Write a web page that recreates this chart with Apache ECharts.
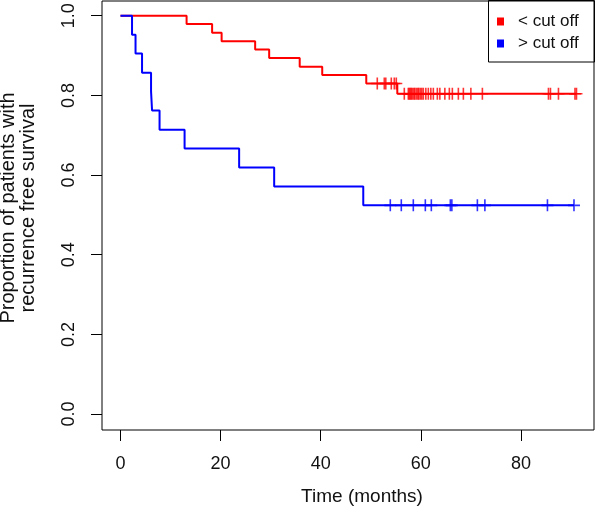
<!DOCTYPE html>
<html>
<head>
<meta charset="utf-8">
<script src="https://cdn.jsdelivr.net/npm/echarts@6/dist/echarts.min.js"></script>
<style>
html,body{margin:0;padding:0;background:#fff;}
#chart{width:596px;height:509px;}
</style>
</head>
<body>
<div id="chart"></div>
<script>
// ---- data ----
const seriesNames = ['< cut off', '> cut off'];
const xTicks = [0, 20, 40, 60, 80];
const yTicks = [0, 0.2, 0.4, 0.6, 0.8, 1.0];

// "< cut off" group (red): step times and survival
const redTimes = [0, 13.2, 18.3, 20.2, 26.9, 29.7, 35.8, 40.3, 49.1, 55.3, 91.1];
const redSurv  = [1.0, 0.979, 0.957, 0.936, 0.915, 0.894, 0.872, 0.851, 0.830, 0.804, 0.804];
// censored times (red) at level 0.830 and at level 0.804
const redCensorA = [51.3, 52.7, 53.0, 54.1, 54.7, 55.1];
const redCensorAL = 0.830;
const redCensorB = [56.7, 57.5, 57.7, 57.9, 58.1, 58.3, 58.6, 58.8, 59.1, 59.4, 59.6, 59.9,
                    60.2, 60.5, 61.0, 61.5, 62.0, 62.5, 63.3, 63.8, 64.8, 65.7, 66.3, 67.5,
                    68.5, 70.0, 72.3, 85.5, 85.9, 87.5, 90.8, 91.1];
const redCensorBL = 0.804;

// "> cut off" group (blue)
const blueTimes = [0, 2.3, 3.0, 4.3, 6.1, 6.3, 7.8, 12.8, 23.7, 30.7, 48.5, 90.6];
const blueSurv  = [1.0, 0.952, 0.905, 0.857, 0.810, 0.762, 0.714, 0.667, 0.619, 0.571, 0.524, 0.524];
const blueCensor = [53.9, 56.1, 58.5, 60.9, 62.1, 65.9, 66.2, 71.3, 72.8, 85.3, 90.6];
const blueCensorL = 0.524;

// ---- build ----
const zip = (xs, ys) => xs.map((x, i) => [x, ys[i]]);
const atLevel = (xs, l) => xs.map(x => [x, l]);
const plus = 'path://M5.2,0H6.8V5.2H12V6.8H6.8V12H5.2V6.8H0V5.2H5.2Z';
const RED = '#ff0000', BLUE = '#0000ff';
const FONT = 'Liberation Sans, Arial, Helvetica, sans-serif';

const chart = echarts.init(document.getElementById('chart'), null, {renderer: 'canvas'});
chart.setOption({
  animation: false,
  backgroundColor: '#fff',
  grid: {left: 102, right: 2, top: 1, bottom: 79, show: true, borderColor: '#000', borderWidth: 1, backgroundColor: 'transparent'},
  xAxis: {
    type: 'value', min: -3.7, max: 94.6, position: 'bottom',
    splitLine: {show: false},
    axisLine: {show: false, onZero: false},
    axisTick: {show: true, length: 11, inside: false, customValues: xTicks, lineStyle: {color: '#000', width: 1}},
    axisLabel: {customValues: xTicks, margin: 25, color: '#111', fontSize: 18, fontFamily: FONT}
  },
  yAxis: {
    type: 'value', min: -0.04, max: 1.037, position: 'left',
    splitLine: {show: false},
    axisLine: {show: false, onZero: false},
    axisTick: {show: true, length: 11, customValues: yTicks, lineStyle: {color: '#000', width: 1}},
    axisLabel: {customValues: yTicks, rotate: 90, margin: 24, color: '#111', fontSize: 18, fontFamily: FONT,
                formatter: v => v.toFixed(1)}
  },
  legend: {
    data: seriesNames,
    orient: 'vertical',
    left: 497, top: 13,
    icon: 'rect', itemWidth: 7, itemHeight: 8, itemGap: 5,
    textStyle: {color: '#111', fontSize: 17, fontFamily: FONT, padding: [0, 0, 0, 9]},
    padding: 0
  },
  graphic: [
    {type: 'rect', shape: {x: 488.5, y: 0.5, width: 106, height: 61.5}, style: {fill: 'none', stroke: '#000', lineWidth: 1}, z: 100},
    {type: 'text', x: 362, y: 497, style: {text: 'Time (months)', fontSize: 19, fontFamily: FONT, fill: '#111', align: 'center', verticalAlign: 'middle'}},
    {type: 'text', x: 18, y: 208, rotation: Math.PI / 2,
     style: {text: 'Proportion of patients with\nrecurrence free survival', fontSize: 20, lineHeight: 20, fontFamily: FONT, fill: '#111', align: 'center', verticalAlign: 'middle'}}
  ],
  series: [
    {name: seriesNames[0], type: 'line', step: 'end', data: zip(redTimes, redSurv), showSymbol: false,
     lineStyle: {color: RED, width: 2}, itemStyle: {color: RED}, z: 2},
    {name: seriesNames[1], type: 'line', step: 'end', data: zip(blueTimes, blueSurv), showSymbol: false,
     lineStyle: {color: BLUE, width: 2}, itemStyle: {color: BLUE}, z: 3},
    {name: 'redCensor', type: 'scatter', data: atLevel(redCensorA, redCensorAL).concat(atLevel(redCensorB, redCensorBL)),
     symbol: plus, symbolSize: 12, itemStyle: {color: RED}, z: 4},
    {name: 'blueCensor', type: 'scatter', data: atLevel(blueCensor, blueCensorL),
     symbol: plus, symbolSize: 12, itemStyle: {color: BLUE}, z: 4}
  ]
});
</script>
</body>
</html>
